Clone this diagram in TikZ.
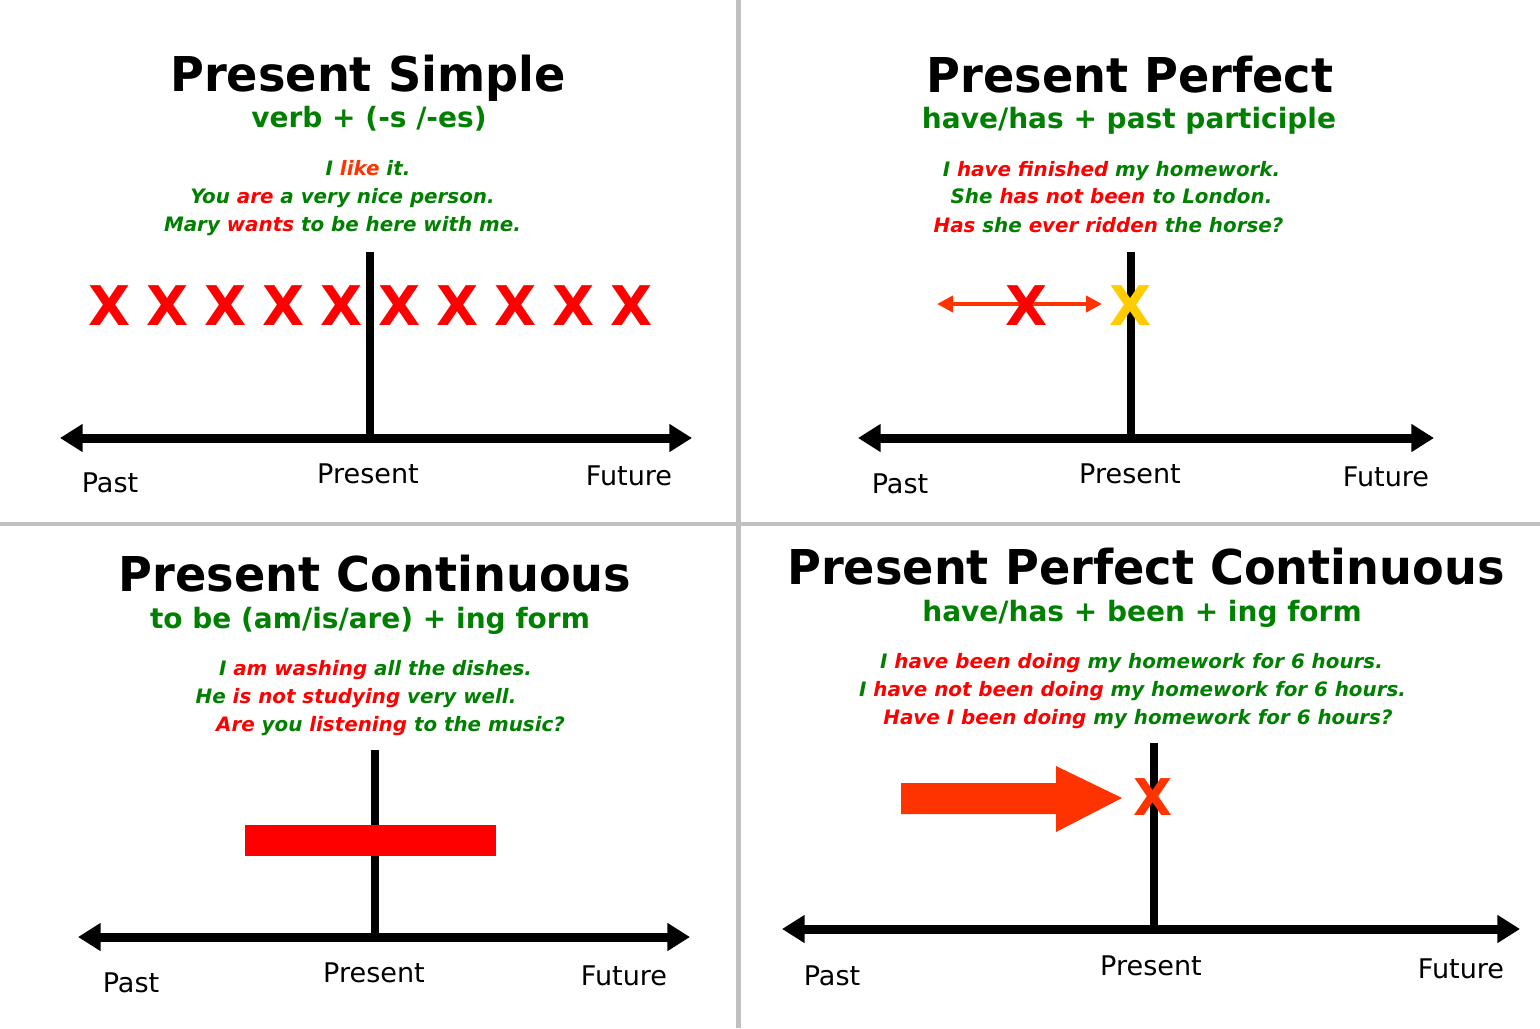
\documentclass[tikz,border=0pt]{standalone}
\usepackage{fontspec}
\setmainfont{DejaVu Sans}
\usetikzlibrary{arrows.meta}
\definecolor{tgreen}{HTML}{008000}
\definecolor{tred}{HTML}{FF0000}
\definecolor{torange}{HTML}{FF3300}
\definecolor{tyellow}{HTML}{FFCC00}
\definecolor{divgray}{HTML}{C0C0C0}
\newcommand{\G}[1]{\textcolor{tgreen}{#1}}
\newcommand{\Rd}[1]{\textcolor{tred}{#1}}
\newcommand{\Or}[1]{\textcolor{torange}{#1}}
\newcommand{\Tsq}[1]{\scalebox{0.963}[1]{#1}}
\begin{document}
\begin{tikzpicture}[x=0.75pt,y=-0.75pt,
 title/.style={font=\fontsize{36}{40}\selectfont\bfseries, inner sep=0, anchor=base},
 formula/.style={font=\fontsize{21}{24}\selectfont\bfseries, text=tgreen, inner sep=0, anchor=base},
 example/.style={font=\fontsize{14.9}{18}\selectfont\bfseries\itshape, inner sep=0, anchor=base},
 tlabel/.style={font=\fontsize{20.3}{23}\selectfont, inner sep=0, anchor=base},
 xmark/.style={font=\fontsize{41}{44}\selectfont\bfseries, text=tred, inner sep=0},
 axis/.style={line width=6.75pt, {Triangle[length=17pt,width=20pt]}-{Triangle[length=17pt,width=20pt]}},
 stem/.style={line width=6pt},
 divider/.style={line width=3.5pt, divgray}]
\useasboundingbox (0,0) rectangle (1540,1028);
\fill[white] (0,0) rectangle (1540,1028);
% dividers
\coordinate (dvt) at (738.5,0); \coordinate (dvb) at (738.5,1028);
\coordinate (dhl) at (0,524); \coordinate (dhr) at (1540,524);
\draw[divider] (dvt) -- (dvb);
\draw[divider] (dhl) -- (dhr);

% ---------- Present Simple ----------
\node[title] (t1) at (368,91) {\Tsq{Present Simple}};
\node[formula] (f1) at (369,127) {verb + (-s /-es)};
\node[example] (e1a) at (368,175) {\G{I} \Or{like} \G{it.}};
\node[example] (e1b) at (342.5,203) {\G{You} \Rd{are} \G{a very nice person.}};
\node[example] (e1c) at (342.5,231) {\G{Mary} \Rd{wants} \G{to be here with me.}};
\coordinate (a1l) at (60,438); \coordinate (a1r) at (692,438);
\coordinate (s1t) at (370,252); \coordinate (s1b) at (370,438);
\draw[stem] (s1t) -- (s1b);
\draw[axis] (a1l) -- (a1r);
\foreach \i in {0,...,9} {
  \node[xmark] (x1\i) at ({110+58*\i},306) {X};
}
\node[tlabel] (p1) at (110,492) {Past};
\node[tlabel] (n1) at (368,483) {Present};
\node[tlabel] (u1) at (629,485) {Future};

% ---------- Present Perfect ----------
\node[title] (t2) at (1130,92) {\Tsq{Present Perfect}};
\node[formula] (f2) at (1129,128) {have/has + past participle};
\node[example] (e2a) at (1111.5,176) {\G{I} \Rd{have finished} \G{my homework.}};
\node[example] (e2b) at (1111.5,203) {\G{She} \Rd{has not been} \G{to London.}};
\node[example] (e2c) at (1108.5,232) {\Rd{Has} \G{she} \Rd{ever ridden} \G{the horse?}};
\coordinate (a2l) at (858,438); \coordinate (a2r) at (1434,438);
\coordinate (s2t) at (1131,252); \coordinate (s2b) at (1131,438);
\draw[stem] (s2t) -- (s2b);
\draw[axis] (a2l) -- (a2r);
\node[xmark, text=tyellow] (x2b) at (1131,306) {X};
\coordinate (d2l) at (937,304); \coordinate (d2r) at (1102,304);
\draw[torange, line width=3pt, {Triangle[length=12pt,width=12pt]}-{Triangle[length=12pt,width=12pt]}] (d2l) -- (d2r);
\node[xmark] (x2a) at (1027,306) {X};
\node[tlabel] (p2) at (900,493) {Past};
\node[tlabel] (n2) at (1130,483) {Present};
\node[tlabel] (u2) at (1386,486) {Future};

% ---------- Present Continuous ----------
\node[title] (t3) at (375,591) {\Tsq{Present Continuous}};
\node[formula] (f3) at (370,628) {to be (am/is/are) + ing form};
\node[example] (e3a) at (375.5,675) {\G{I} \Rd{am washing} \G{all the dishes.}};
\node[example] (e3b) at (356,703) {\G{He} \Rd{is not studying} \G{very well.}};
\node[example] (e3c) at (390.5,731) {\Rd{Are} \G{you} \Rd{listening} \G{to the music?}};
\coordinate (a3l) at (78,937); \coordinate (a3r) at (690,937);
\coordinate (s3t) at (375,750); \coordinate (s3b) at (375,937);
\draw[stem] (s3t) -- (s3b);
\draw[axis] (a3l) -- (a3r);
\fill[tred] (245,825) rectangle (496,856);
\node[tlabel] (p3) at (131,992) {Past};
\node[tlabel] (n3) at (374,982) {Present};
\node[tlabel] (u3) at (624,985) {Future};

% ---------- Present Perfect Continuous ----------
\node[title] (t4) at (1146,584) {\Tsq{Present Perfect Continuous}};
\node[formula] (f4) at (1142,621) {have/has + been + ing form};
\node[example] (e4a) at (1131.5,668) {\G{I} \Rd{have been doing} \G{my homework for 6 hours.}};
\node[example] (e4b) at (1132.5,696) {\G{I} \Rd{have not been doing} \G{my homework for 6 hours.}};
\node[example] (e4c) at (1138,724) {\Rd{Have I been doing} \G{my homework for 6 hours?}};
\coordinate (a4l) at (782,929); \coordinate (a4r) at (1520,929);
\coordinate (s4t) at (1154,743); \coordinate (s4b) at (1154,929);
\draw[stem] (s4t) -- (s4b);
\draw[axis] (a4l) -- (a4r);
\fill[torange] (901,783) -- (1056,783) -- (1056,766) -- (1122,798) -- (1056,832) -- (1056,814) -- (901,814) -- cycle;
\node[xmark, text=torange, font=\fontsize{38}{40}\selectfont\bfseries] (x4) at (1153,797) {X};
\node[tlabel] (p4) at (832,985) {Past};
\node[tlabel] (n4) at (1151,975) {Present};
\node[tlabel] (u4) at (1461,978) {Future};
\end{tikzpicture}
\end{document}
